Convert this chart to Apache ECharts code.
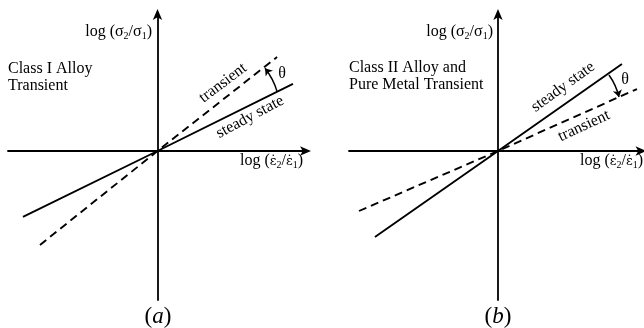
<!DOCTYPE html>
<html>
<head>
<meta charset="utf-8">
<script src="https://cdn.jsdelivr.net/npm/echarts@6/dist/echarts.min.js"></script>
<style>html,body{margin:0;padding:0;background:#fff}#c{width:644px;height:328px}</style>
</head>
<body>
<div id="c"></div>
<script>
// Panel (a): Class I alloy — line end points (origin in the middle)
const steadyA = [[-0.90, -0.478], [0, 0], [0.906, 0.486]];
const transientA = [[-0.786, -0.681], [0, 0], [0.80, 0.681]];
const thetaArcA = [[0.80, 0.43], [0.719, 0.60]];
// Panel (b): Class II alloy / pure metal
const steadyB = [[-0.826, -0.623], [0, 0], [0.832, 0.63]];
const transientB = [[-0.933, -0.435], [0, 0], [0.933, 0.449]];
const thetaArcB = [[0.745, 0.551], [0.812, 0.391]];
// Axis extents
const xRangeA = [-1, 1];
const xRangeB = [-1, 0.97];
const yRange = [-1.08, 1];
// Texts
const yName = '{n|log (σ}{s|2}{n|/σ}{s|1}{n|)}';
const xName = '{n|log (}{e|ε̇}{s|2}{n|/}{e|ε̇}{s|1}{n|)}';
const classA = ['Class I Alloy', 'Transient'];
const classB = ['Class II Alloy and', 'Pure Metal Transient'];

const FF = "'Liberation Serif','DejaVu Serif',serif";
const rich = {
  n: {fontFamily: FF, fontSize: 16, color: '#000'},
  e: {fontFamily: "'DejaVu Serif',serif", fontSize: 13, color: '#000', padding: [2, 0, 0, 0]},
  s: {fontFamily: FF, fontSize: 10, color: '#000', padding: [9, 0, 0, 0]},
  i: {fontFamily: FF, fontSize: 23, fontStyle: 'italic', color: '#000'},
  p: {fontFamily: FF, fontSize: 23, color: '#000'}
};

function axisX(idx, range) {
  return {gridIndex: idx, type: 'value', min: range[0], max: range[1],
    axisLine: {onZero: true, symbol: ['none', 'arrow'], symbolSize: [7, 11], symbolOffset: [0, 4],
      lineStyle: {color: '#000', width: 1.8}},
    axisTick: {show: false}, axisLabel: {show: false}, splitLine: {show: false}};
}
function axisY(idx) {
  return {gridIndex: idx, type: 'value', min: yRange[0], max: yRange[1],
    axisLine: {onZero: true, symbol: ['none', 'arrow'], symbolSize: [7, 11], symbolOffset: [0, 4],
      lineStyle: {color: '#000', width: 1.8}},
    axisTick: {show: false}, axisLabel: {show: false}, splitLine: {show: false}};
}
function lineS(idx, data, dashed) {
  return {type: 'line', xAxisIndex: idx, yAxisIndex: idx, data: data, showSymbol: false, silent: true,
    animation: false, lineStyle: {color: '#000', width: 1.9, type: dashed ? [8, 5] : 'solid'}};
}
function arcS(idx, coords, curv) {
  return {type: 'lines', coordinateSystem: 'cartesian2d', xAxisIndex: idx, yAxisIndex: idx,
    symbol: ['none', 'arrow'], symbolSize: 7, animation: false, silent: true,
    lineStyle: {color: '#000', width: 1.5, curveness: curv, opacity: 1},
    data: [{coords: coords}]};
}
function txt(x, y, text, opts) {
  opts = opts || {};
  return {type: 'text', x: x, y: y, rotation: (opts.rot || 0) * Math.PI / 180, silent: true,
    style: {text: text, rich: rich, fontFamily: FF, fontSize: opts.size || 16, fill: '#000',
      align: opts.align || 'left', verticalAlign: opts.va || 'middle', lineHeight: opts.lh || 18}};
}

const chart = echarts.init(document.getElementById('c'), null, {renderer: 'canvas'});
chart.setOption({
  animation: false,
  backgroundColor: '#fff',
  grid: [
    {left: 8, top: 13, width: 299, height: 287},
    {left: 349, top: 13, width: 293.5, height: 287}
  ],
  xAxis: [axisX(0, xRangeA), axisX(1, xRangeB)],
  yAxis: [axisY(0), axisY(1)],
  series: [
    lineS(0, steadyA, false), lineS(0, transientA, true), arcS(0, thetaArcA, -0.1),
    lineS(1, steadyB, false), lineS(1, transientB, true), arcS(1, thetaArcB, 0.1)
  ],
  graphic: [
    txt(152, 32, yName, {align: 'right'}),
    txt(493, 32, yName, {align: 'right'}),
    txt(303, 161, xName, {align: 'right'}),
    txt(643, 161, xName, {align: 'right'}),
    txt(8, 69, classA[0]), txt(8, 86, classA[1]),
    txt(349, 68, classB[0]), txt(349, 85, classB[1]),
    txt(223, 83, 'transient', {align: 'center', rot: 37}),
    txt(250, 117, 'steady state', {align: 'center', rot: 28}),
    txt(563, 87, 'steady state', {align: 'center', rot: 36}),
    txt(584, 126, 'transient', {align: 'center', rot: 25}),
    txt(282, 74, 'θ', {align: 'center'}),
    txt(625, 80, 'θ', {align: 'center'}),
    txt(158, 317, '{p|(}{i|a}{p|)}', {align: 'center'}),
    txt(498, 317, '{p|(}{i|b}{p|)}', {align: 'center'})
  ]
});
</script>
</body>
</html>
